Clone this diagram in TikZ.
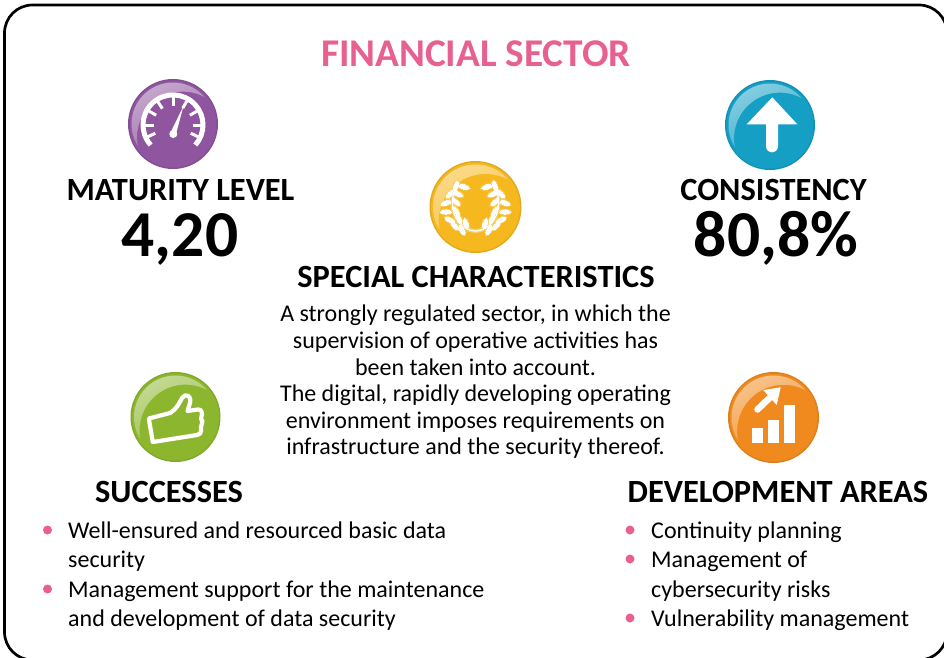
\documentclass[tikz,border=0pt]{standalone}
\usepackage{fontspec}
\setmainfont{Carlito}
\usetikzlibrary{calc}
\definecolor{titlepink}{HTML}{E8608F}
\definecolor{bulletpink}{HTML}{E8608F}
\definecolor{cpurple}{HTML}{8F569F}
\definecolor{cgold}{HTML}{F6B81F}
\definecolor{cblue}{HTML}{159FC5}
\definecolor{cgreen}{HTML}{8DB62F}
\definecolor{corange}{HTML}{F08A1E}
\tikzset{
 x=1pt,y=-1pt,
 frame/.style={draw=black,line width=2.7pt,rounded corners=28pt},
 title/.style={font=\fontsize{39.3}{42}\selectfont\bfseries,text=titlepink,inner sep=0pt,anchor=base},
 head/.style={font=\fontsize{32.4}{36}\selectfont\bfseries,inner sep=0pt,anchor=base},
 bignum/.style={font=\fontsize{65.5}{70}\selectfont\bfseries,inner sep=0pt,anchor=base},
 body/.style={font=\fontsize{24}{26.6}\selectfont,inner sep=0pt,align=center},
 listtext/.style={font=\fontsize{24}{29.5}\selectfont,inner sep=0pt,align=left,anchor=north west},
 dotmark/.style={circle,fill=bulletpink,minimum size=9pt,inner sep=0pt},
}
\newcommand{\badge}[4]{% x,y,r,colour
 \fill[#4!92!black] (#1,#2) circle (#3);
 \fill[#4] (#1,#2) circle (#3-1.5);
 \begin{scope}
  \clip (#1,#2) circle (#3-3.5);
  \shade[even odd rule,left color=white!48!#4,right color=#4,shading angle=25]
   (#1-#3,#2-#3) rectangle (#1+#3,#2+#3) (#1+#3*0.22,#2+#3*0.30) circle (#3*1.02);
 \end{scope}
}
\begin{document}
\begin{tikzpicture}
\useasboundingbox (0,0) rectangle (944,657);
\clip (0,0) rectangle (944,657);
\fill[white] (0,0) rectangle (944,657);
\draw[frame] (4.5,5) rectangle (947,660);
\node[title] (t) at (476,66) {FINANCIAL SECTOR};

% purple gauge
\badge{173}{124}{45}{cpurple}
\draw[white,line width=5pt] (150.7,145) arc (138:402:30);
\foreach \a in {180,210,237,270,300,330,360,25,155}{\draw[white,line width=3pt] ($(173,125)+(\a:19.5)$) -- ($(173,125)+(\a:28)$);}
\fill[white] (173.3,134) circle (4);
\fill[white] (170.3,133) -- (183.5,106) -- (176,134) -- cycle;

% gold laurel
\badge{475.5}{207}{46}{cgold}
\foreach \col/\wd in {cgold!65!white/2.6pt,white/0pt}{
 \foreach \s/\X in {1/0,-1/951}{
 \begin{scope}[shift={(\X,0)},xscale=\s]
 \draw[\col,line width=1.2pt+\wd] (476,231) .. controls (460,231) and (448,212) .. (454,192);
 \foreach \p/\q/\r in {456/186/70,450/194/50,446/203/20,446/212/0,450/220/-25,455/226/-45,462/230/-60,
 464/187/-15,458/194/-25,456/202/-40,456/211/-55,459/219/-65,466/224/-75}{
  \path[fill=\col,draw=\col,line width=\wd] (\p,\q) ellipse[x radius=5.2,y radius=2.1,rotate=\r];
 }
 \end{scope}
 }
}

% blue arrow
\badge{770}{125}{45}{cblue}
\fill[white] (772.3,97.3) -- (797.3,124.3) -- (778,124.3) -- (778,146.3) arc (0:180:6) -- (766,124.3) -- (746.7,124.3) -- cycle;

% green thumb
\badge{175.5}{417}{45}{cgreen}
\draw[white,line width=4.2pt,line join=round] (148.8,418.5) -- (170,413) .. controls (176,410) and (180,402) .. (182,398)
 .. controls (185,393) and (192,395) .. (190,403) -- (187.5,411) -- (198,409.5) .. controls (201.5,409.5) and (202,412) .. (202,414)
 -- (201,419) -- (202.5,421) -- (201,427) -- (201,431) .. controls (201,433) and (200,434.5) .. (197,435) -- (152.8,442) -- cycle;

% orange chart
\badge{773.5}{417.5}{45.5}{corange}
\fill[white] (752.3,428.3) rectangle (763.3,442.7);
\fill[white] (768.3,420) rectangle (779.3,442.7);
\fill[white] (784,405) rectangle (795,442.7);
\draw[white,line width=6.5pt,line cap=round] (757.5,409.5) -- (771,396.5);
\fill[white] (763.3,390) -- (780.7,387.3) -- (776.7,405) -- cycle;

% texts
\node[head] (ml) at (180.5,200) {MATURITY LEVEL};
\node[bignum] (n1) at (180,256) {4,20};
\node[head] (co) at (773.5,200) {CONSISTENCY};
\node[bignum] (n2) at (776,256) {80,8\%};
\node[head] (sc) at (476,287) {SPECIAL CHARACTERISTICS};
\node[body] (b) at (475.5,382) {A strongly regulated sector, in which the\\supervision of operative activities has\\been taken into account.\\The digital, rapidly developing operating\\environment imposes requirements on\\infrastructure and the security thereof.};
\node[head] (su) at (169,502) {SUCCESSES};
\node[head] (da) at (778,502) {DEVELOPMENT AREAS};

\node[dotmark] (d1) at (47.5,530) {};
\node[dotmark] (d2) at (47.5,589) {};
\node[listtext] (l1) at (68,521.5) {Well-ensured and resourced basic data\\security};
\node[listtext] (l2) at (68,580.5) {Management support for the maintenance\\and development of data security};
\node[dotmark] (d3) at (630,530) {};
\node[dotmark] (d4) at (630,559) {};
\node[dotmark] (d5) at (630,618) {};
\node[listtext] (l3) at (651,521.5) {Continuity planning};
\node[listtext] (l4) at (651,551) {Management of\\cybersecurity risks};
\node[listtext] (l5) at (651,609.5) {Vulnerability management};
\end{tikzpicture}
\end{document}
